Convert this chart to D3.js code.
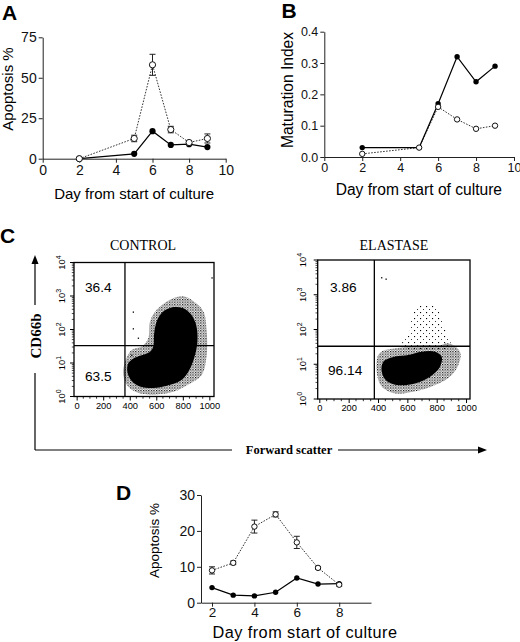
<!DOCTYPE html>
<html><head><meta charset="utf-8">
<script src="https://cdn.jsdelivr.net/npm/d3@7"></script>
<style>body{margin:0;background:#fff} svg{display:block}</style>
</head><body>
<svg id="c" width="520" height="642"></svg>
<script>
// ---------- DATA ----------
const daysA = [2, 5, 6, 7, 8, 9];
const apoOpenA = [0, 12.5, 58, 18, 10, 12.5];
const apoOpenErrA = [0, 2, 6.5, 2, 1, 2.8];
const apoFilledA = [0, 3, 17, 8.5, 9, 7.2];
const ticksXA = [0, 2, 4, 6, 8, 10];
const ticksYA = [0, 25, 50, 75];

const daysB = [2, 5, 6, 7, 8, 9];
const matFilledB = [0.03, 0.03, 0.17, 0.32, 0.24, 0.29];
const matOpenB = [0.01, 0.03, 0.16, 0.12, 0.09, 0.10];
const ticksXB = [0, 2, 4, 6, 8, 10];
const ticksYB = [0, 0.1, 0.2, 0.3, 0.4];

const daysD = [2, 3, 4, 5, 6, 7, 8];
const apoOpenD = [9, 11.1, 21.2, 24.6, 16.8, 9.7, 5];
const apoOpenErrD = [1, 0.5, 1.8, 0.7, 1.7, 0.4, 0.4];
const apoFilledD = [4.2, 2.1, 1.9, 2.9, 6.9, 5.2, 5.3];
const ticksXD = [2, 4, 6, 8];
const ticksYD = [0, 10, 20, 30];

// flow cytometry: [forward scatter channel, CD66b intensity]
const controlCore = [[389,9.8],[382,5.5],[415,2.9],[477,2.0],[578,1.8],[679,2.1],[779,2.9],[842,5.5],[885,13.8],[910,43.6],[900,138],[860,288],[799,437],[716,457],[648,331],[603,174],[583,69],[578,31],[548,21],[477,16.6],[422,13.2]];
const controlHalo = [[365,11],[352,4.4],[389,1.95],[477,1.23],[603,1.15],[729,1.38],[855,2.45],[943,4.4],[980,17.4],[980,87],[955,347],[880,692],[804,977],[704,776],[603,389],[553,174],[540,55],[490,31],[415,24.5]];
const controlStray = [[427,105],[465,55],[415,17],[1020,3467],[427,331]];
const elastaseCore = [[436,11.7],[425,6.2],[459,3.3],[539,2.5],[652,2.8],[755,4.4],[823,8.5],[834,16.6],[788,22.9],[698,22.9],[607,18.6],[516,16.6]];
const elastaseHalo = [[402,18.6],[391,6.2],[425,2.3],[516,1.45],[630,1.6],[766,2.3],[880,4.0],[948,9.5],[959,22.9],[880,40],[820,35],[700,35],[600,32],[500,28],[440,25]];
const elastaseUpper = [[560,32],[607,79],[630,209],[675,457],[789,457],[834,209],[880,56],[900,32]];
const elastaseStray = [[425,3090],[455,2818]];
const quadControl = {x: 364, y: 33};
const quadElastase = {x: 375, y: 33};
const pctControl = ["36.4", "63.5"];
const pctElastase = ["3.86", "96.14"];
const scatterTicksX = [0, 200, 400, 600, 800, 1000];
const scatterTicksY = [1, 10, 100, 1000, 10000];

// ---------- DRAW ----------
const svg = d3.select('#c');
const SANS = 'Liberation Sans, Arial, Helvetica, sans-serif';
const SERIF = 'Liberation Serif, Times New Roman, serif';

function letter(t, x, y) {
  svg.append('text').attr('x', x).attr('y', y).text(t)
    .attr('font-family', SANS).attr('font-weight', 'bold').attr('font-size', 21);
}

function lineChart(o) {
  const g = svg.append('g');
  const x = d3.scaleLinear().domain(o.xd).range(o.xr);
  const y = d3.scaleLinear().domain(o.yd).range(o.yr);
  const ax = g.append('g').attr('transform', `translate(0,${o.yr[0]})`)
    .call(d3.axisBottom(x).tickValues(o.tx).tickSize(4).tickSizeOuter(0).tickPadding(2));
  const ay = g.append('g').attr('transform', `translate(${o.xr[0]},0)`)
    .call(d3.axisLeft(y).tickValues(o.ty).tickSize(4).tickSizeOuter(0).tickPadding(2).tickFormat(o.fy || d3.format('d')));
  [ax, ay].forEach(a => {
    a.selectAll('text').attr('font-family', SANS).attr('font-size', o.fs).attr('fill', '#111');
    a.selectAll('path,line').attr('stroke', '#222').attr('stroke-width', 1);
  });
  ax.selectAll('text').attr('font-size', o.fsx || o.fs).attr('dy', o.xdy || '0.71em');
  g.append('text').attr('x', (o.xr[0] + o.xr[1]) / 2 + (o.xlOff || 0)).attr('y', o.xlY).attr('text-anchor', 'middle')
    .attr('font-family', SANS).attr('font-size', o.lfs).attr('letter-spacing', o.ls || 0).text(o.xl);
  g.append('text').attr('transform', `translate(${o.ylX},${o.ylC}) rotate(-90)`).attr('text-anchor', 'middle')
    .attr('font-family', SANS).attr('font-size', o.ylfs || o.lfs).text(o.yl);

  const ln = d3.line().x(d => x(d[0])).y(d => y(d[1]));
  const open = o.days.map((d, i) => [d, o.open[i]]);
  const filled = o.days.map((d, i) => [d, o.filled[i]]);
  g.append('path').attr('d', ln(open)).attr('fill', 'none').attr('stroke', '#333')
    .attr('stroke-width', 1).attr('stroke-dasharray', '1.6,1.4');
  g.append('path').attr('d', ln(filled)).attr('fill', 'none').attr('stroke', '#000').attr('stroke-width', 1.2);
  if (o.err) {
    o.days.forEach((d, i) => {
      const e = o.err[i]; if (!e) return;
      const cx = x(d), y1 = y(o.open[i] + e), y0 = y(o.open[i] - e);
      g.append('line').attr('x1', cx).attr('x2', cx).attr('y1', y1).attr('y2', y0).attr('stroke', '#222').attr('stroke-width', 1);
      [y1, y0].forEach(yy => g.append('line').attr('x1', cx - 3).attr('x2', cx + 3).attr('y1', yy).attr('y2', yy).attr('stroke', '#222').attr('stroke-width', 1));
    });
  }
  g.selectAll(null).data(filled).join('circle').attr('cx', d => x(d[0])).attr('cy', d => y(d[1]))
    .attr('r', o.r).attr('fill', '#000');
  g.selectAll(null).data(open).join('circle').attr('cx', d => x(d[0])).attr('cy', d => y(d[1]))
    .attr('r', o.r).attr('fill', '#fff').attr('stroke', '#111').attr('stroke-width', 1);
}

// Panel A
letter('A', 2, 20);
lineChart({xd: [0, 10], xr: [42.7, 225.7], yd: [0, 75], yr: [158.7, 37.3], tx: ticksXA, ty: ticksYA,
  fs: 14, lfs: 15, xl: 'Day from start of culture', xlY: 198.5, yl: 'Apoptosis %', ylX: 12.8, ylC: 89,
  days: daysA, open: apoOpenA, filled: apoFilledA, err: apoOpenErrA, r: 3.1});

// Panel B
letter('B', 281.5, 18);
lineChart({xd: [0, 10], xr: [324.3, 514], yd: [0, 0.4], yr: [157, 31.7], tx: ticksXB, ty: ticksYB,
  fs: 12.5, lfs: 15.6, xl: 'Day from start of culture', xlY: 195, xlOff: -0.3, yl: 'Maturation Index', ylX: 293, ylC: 90,
  fy: d3.format('.1f'), days: daysB, open: matOpenB, filled: matFilledB, r: 2.7});

// Panel D
letter('D', 116, 500);
lineChart({xd: [1.48, 9.5], xr: [201, 371], yd: [0, 30], yr: [602.7, 495], tx: ticksXD, ty: ticksYD,
  fs: 14, fsx: 13.5, xdy: '0.6em', lfs: 16.3, ls: 0.45, ylfs: 13.5, xl: 'Day from start of culture', xlY: 637.5, xlOff: 19,
  yl: 'Apoptosis %', ylX: 159.3, ylC: 540.5,
  days: daysD, open: apoOpenD, filled: apoFilledD, err: apoOpenErrD, r: 2.7});

// Panel C
letter('C', 0, 243);
const defs = svg.append('defs');
function pat(id, s, d) {
  const p = defs.append('pattern').attr('id', id).attr('width', s).attr('height', s).attr('patternUnits', 'userSpaceOnUse');
  p.append('rect').attr('width', d).attr('height', d).attr('fill', '#000');
  p.append('rect').attr('x', s / 2).attr('y', s / 2).attr('width', d * 0.8).attr('height', d * 0.8).attr('fill', '#000');
}
pat('dense', 2.6, 1.2);
pat('sparse', 6, 1.1);

function flow(o) {
  const g = svg.append('g');
  const x = d3.scaleLinear().domain(o.xd).range(o.xr);
  const y = d3.scaleLog().domain([1, 10000]).range(o.yr);
  const ar = d3.line().x(d => x(d[0])).y(d => y(d[1])).curve(d3.curveCatmullRomClosed.alpha(0.5));
  (o.layers || []).forEach(L => g.append('path').attr('d', ar(L.pts)).attr('fill', L.fill).attr('stroke', 'none'));
  g.selectAll(null).data(o.stray).join('rect').attr('x', d => x(d[0]) - 0.6).attr('y', d => y(d[1]) - 0.6)
    .attr('width', 1.3).attr('height', 1.3).attr('fill', '#000');
  // frame
  g.append('rect').attr('x', o.xr[0]).attr('y', o.yr[1]).attr('width', o.xr[1] - o.xr[0]).attr('height', o.yr[0] - o.yr[1])
    .attr('fill', 'none').attr('stroke', '#000').attr('stroke-width', 1.3);
  g.append('line').attr('x1', x(o.q.x)).attr('x2', x(o.q.x)).attr('y1', o.yr[0]).attr('y2', o.yr[1]).attr('stroke', '#000').attr('stroke-width', 1.3);
  g.append('line').attr('x1', o.xr[0]).attr('x2', o.xr[1]).attr('y1', y(o.q.y)).attr('y2', y(o.q.y)).attr('stroke', '#000').attr('stroke-width', 1.3);
  // x ticks
  const ax = g.append('g').attr('transform', `translate(0,${o.yr[0]})`)
    .call(d3.axisBottom(x).tickValues(scatterTicksX).tickFormat(d3.format('d')).tickSize(4).tickSizeOuter(0).tickPadding(1.5));
  ax.select('.domain').remove();
  ax.selectAll('text').attr('font-family', SANS).attr('font-size', 9.3);
  ax.selectAll('line').attr('stroke-width', 1);
  g.selectAll(null).data(d3.range(50, 1001, 50).filter(v => v % 200)).join('line')
    .attr('x1', d => x(d)).attr('x2', d => x(d)).attr('y1', o.yr[0]).attr('y2', o.yr[0] + 2.2).attr('stroke', '#000').attr('stroke-width', 0.8);
  // y ticks
  const minors = [];
  [1, 10, 100, 1000].forEach(b => d3.range(2, 10).forEach(k => minors.push(b * k)));
  g.selectAll(null).data(minors).join('line').attr('x1', o.xr[0]).attr('x2', o.xr[0] - 2.2)
    .attr('y1', d => y(d)).attr('y2', d => y(d)).attr('stroke', '#000').attr('stroke-width', 0.7);
  g.selectAll(null).data(scatterTicksY).join('line').attr('x1', o.xr[0]).attr('x2', o.xr[0] - 4)
    .attr('y1', d => y(d)).attr('y2', d => y(d)).attr('stroke', '#000').attr('stroke-width', 1);
  scatterTicksY.forEach(v => {
    const t = g.append('text').attr('transform', `translate(${o.ylx},${y(v)}) rotate(-90)`).attr('text-anchor', 'middle')
      .attr('font-family', SANS).attr('font-size', 9.3);
    t.append('tspan').text('10');
    t.append('tspan').attr('dy', -4).attr('font-size', 7).text(Math.round(Math.log10(v)));
  });
  // title and percentages
  g.append('text').attr('x', o.tx).attr('y', 250).attr('text-anchor', 'middle').attr('font-family', SERIF).attr('font-size', 14).text(o.title);
  g.append('text').attr('x', o.p1[0]).attr('y', o.p1[1]).attr('font-family', SANS).attr('font-size', 13.7).text(o.pct[0]);
  g.append('text').attr('x', o.p2[0]).attr('y', o.p2[1]).attr('font-family', SANS).attr('font-size', 13.7).text(o.pct[1]);
}

flow({xd: [-20, 1035], xr: [74, 214], yr: [396.5, 262.5], q: quadControl, ylx: 65,
  layers: [{pts: controlHalo, fill: 'url(#dense)'}, {pts: controlCore, fill: '#000'}],
  stray: controlStray, title: 'CONTROL', tx: 143, pct: pctControl, p1: [85, 292], p2: [85, 381]});
flow({xd: [-11, 1027], xr: [317.7, 470], yr: [399, 260], q: quadElastase, ylx: 306,
  layers: [{pts: elastaseUpper, fill: 'url(#sparse)'}, {pts: elastaseHalo, fill: 'url(#dense)'}, {pts: elastaseCore, fill: '#000'}],
  stray: elastaseStray, title: 'ELASTASE', tx: 394, pct: pctElastase, p1: [330, 291.5], p2: [328, 375]});

// outer axis arrows
const AX = 35, AY = 450;
svg.append('line').attr('x1', AX).attr('x2', AX).attr('y1', AY).attr('y2', 373).attr('stroke', '#000').attr('stroke-width', 1.2);
svg.append('line').attr('x1', AX).attr('x2', AX).attr('y1', 305).attr('y2', 262).attr('stroke', '#000').attr('stroke-width', 1.2);
svg.append('path').attr('d', `M${AX},255 L${AX - 3.5},264 L${AX + 3.5},264 Z`).attr('fill', '#000');
svg.append('text').attr('transform', `translate(40.5,336) rotate(-90)`).attr('text-anchor', 'middle')
  .attr('font-family', SERIF).attr('font-weight', 'bold').attr('font-size', 15).text('CD66b');
svg.append('line').attr('x1', AX).attr('x2', 232).attr('y1', AY).attr('y2', AY).attr('stroke', '#000').attr('stroke-width', 1.2);
svg.append('line').attr('x1', 338).attr('x2', 480).attr('y1', AY).attr('y2', AY).attr('stroke', '#000').attr('stroke-width', 1.2);
svg.append('path').attr('d', `M487,${AY} L478,${AY - 3.5} L478,${AY + 3.5} Z`).attr('fill', '#000');
svg.append('text').attr('x', 289).attr('y', 454).attr('text-anchor', 'middle')
  .attr('font-family', SERIF).attr('font-weight', 'bold').attr('font-size', 12.5).text('Forward scatter');
</script>
</body></html>
